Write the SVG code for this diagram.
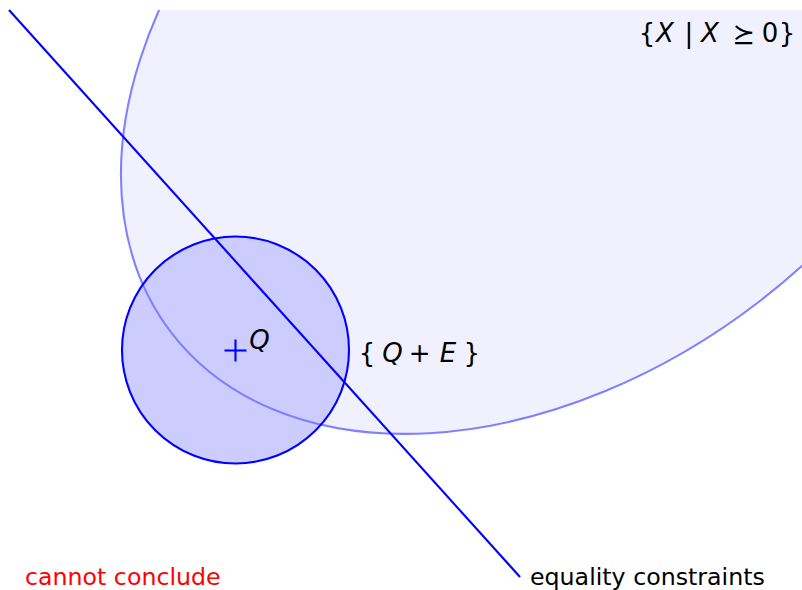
<svg xmlns="http://www.w3.org/2000/svg" width="802" height="590" viewBox="0 0 802 590">
  <defs>
    <clipPath id="clipTop">
      <rect x="0" y="10" width="802" height="580"/>
    </clipPath>
  </defs>
  <style>
    .lbl { font-family: "DejaVu Sans", "Liberation Sans", sans-serif; font-size: 23.7px; fill: #000000; }
    .math { font-family: "DejaVu Sans", "Liberation Sans", sans-serif; font-size: 26px; fill: #000000; text-anchor: middle; }
    .it { font-style: italic; }
    .sym { font-family: "DejaVu Math TeX Gyre", "DejaVu Sans", sans-serif; }
    .blue { stroke: #0000ff; stroke-width: 2.1; fill: none; }
  </style>
  <rect x="0" y="0" width="802" height="590" fill="#ffffff"/>

  <g id="psd-cone" clip-path="url(#clipTop)">
    <ellipse cx="556.4" cy="36.2" rx="486" ry="334" transform="rotate(-37.7 556.4 36.2)" fill="#f0f0ff" stroke="none"/>
  </g>

  <g id="ball">
    <circle cx="235.5" cy="350" r="113.5" fill="#ccccff" stroke="none"/>
  </g>

  <g id="psd-cone-outline" clip-path="url(#clipTop)">
    <ellipse cx="556.4" cy="36.2" rx="486" ry="334" transform="rotate(-37.7 556.4 36.2)" fill="none" stroke="#8080ff" stroke-width="2.1"/>
  </g>

  <g id="ball-outline">
    <circle cx="235.5" cy="350" r="113.5" class="blue"/>
  </g>

  <g id="connectors">
    <line x1="9" y1="10" x2="520" y2="577" class="blue"/>
  </g>

  <g id="point-Q">
    <line x1="224.5" y1="350.5" x2="246.5" y2="350.5" class="blue"/>
    <line x1="235.5" y1="339.5" x2="235.5" y2="361.5" class="blue"/>
    <text x="259.5" y="349" class="math it">Q</text>
  </g>

  <g id="label-psd">
    <text y="42" class="math"><tspan x="647">{</tspan><tspan x="665" class="it">X</tspan><tspan x="689">|</tspan><tspan x="710" class="it">X</tspan><tspan x="743.5" class="sym">⪰</tspan><tspan x="770">0</tspan><tspan x="787">}</tspan></text>
  </g>

  <g id="label-ball">
    <text y="362" class="math"><tspan x="367">{</tspan><tspan x="392.5" class="it">Q</tspan><tspan x="419.7">+</tspan><tspan x="448" class="it">E</tspan><tspan x="471.7">}</tspan></text>
  </g>

  <g id="label-cannot">
    <text x="25" y="585" class="lbl" style="fill:#ff0000">cannot conclude</text>
  </g>

  <g id="label-equality">
    <text x="530" y="585" class="lbl">equality constraints</text>
  </g>
</svg>
